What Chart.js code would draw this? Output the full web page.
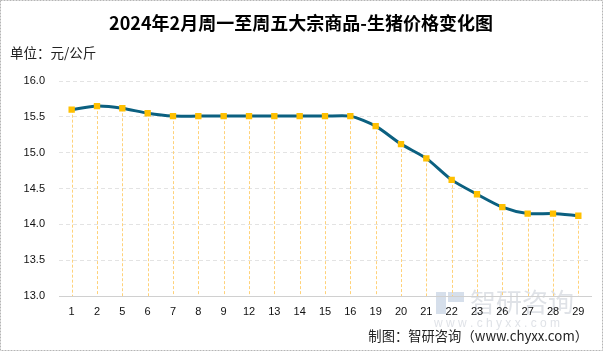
<!DOCTYPE html>
<html>
<head>
<meta charset="utf-8">
<script src="https://cdn.jsdelivr.net/npm/chart.js@4/dist/chart.umd.min.js"></script>
<style>
  html, body { margin: 0; padding: 0; background: #fff; }
  #wrap { width: 603px; height: 351px; position: relative; }
</style>
</head>
<body>
<div id="wrap"><canvas id="c" width="603" height="351"></canvas></div>
<script>
const titleText = '2024年2月周一至周五大宗商品-生猪价格变化图';
const unitText = '单位：元/公斤';
const sourceText = '制图：智研咨询（www.chyxx.com）';
const days = ['1','2','5','6','7','8','9','12','13','14','15','16','19','20','21','22','23','26','27','28','29'];
const prices = [15.60,15.65,15.62,15.55,15.51,15.51,15.51,15.51,15.51,15.51,15.51,15.51,15.37,15.12,14.92,14.62,14.42,14.24,14.15,14.15,14.12];
const yTicks = [13.0,13.5,14.0,14.5,15.0,15.5,16.0];

const CJK = '"Noto Sans CJK SC", "Noto Sans", sans-serif';
const NUM = '"Liberation Sans", "DejaVu Sans", sans-serif';

const decor = {
  id: 'decor',
  beforeDraw(chart) {
    const ctx = chart.ctx;
    ctx.save();
    ctx.fillStyle = '#fff';
    ctx.fillRect(0, 0, chart.width, chart.height);
    ctx.strokeStyle = '#b5b5b5';
    ctx.setLineDash([2, 1]);
    ctx.lineWidth = 1;
    ctx.strokeRect(0.5, 0.5, chart.width - 1, chart.height - 1);
    ctx.setLineDash([]);
    ctx.fillStyle = '#000';
    ctx.font = 'bold 18px ' + CJK;
    ctx.textAlign = 'center';
    ctx.textBaseline = 'middle';
    ctx.fillText(titleText, 301, 23);
    ctx.font = '13.5px ' + CJK;
    ctx.textAlign = 'left';
    ctx.fillStyle = '#222';
    ctx.fillText(unitText, 10, 53);
    // watermark
    ctx.fillStyle = 'rgba(150,160,175,0.3)';
    ctx.font = '26px ' + CJK;
    ctx.fillText('智研咨询', 470, 302);
    ctx.fillStyle = 'rgba(120,150,190,0.3)';
    ctx.fillRect(436, 292, 10, 22);
    ctx.fillRect(448, 292, 16, 10);
    ctx.fillStyle = 'rgba(150,160,175,0.3)';
    ctx.font = '12px ' + NUM;
    ctx.fillText('w w w . c h y x x . c o m', 434, 324);
    ctx.restore();
  },
  beforeDatasetsDraw(chart) {
    const ctx = chart.ctx;
    const meta = chart.getDatasetMeta(0);
    const bottom = chart.chartArea.bottom;
    ctx.save();
    ctx.strokeStyle = '#ffd27a';
    ctx.lineWidth = 1;
    ctx.setLineDash([3, 2]);
    meta.data.forEach(p => {
      ctx.beginPath();
      ctx.moveTo(Math.round(p.x) + 0.5, p.y);
      ctx.lineTo(Math.round(p.x) + 0.5, bottom);
      ctx.stroke();
    });
    ctx.restore();
  },
  afterDraw(chart) {
    const ctx = chart.ctx;
    ctx.save();
    ctx.fillStyle = '#222';
    ctx.font = '13.3px ' + CJK;
    ctx.textAlign = 'right';
    ctx.textBaseline = 'middle';
    ctx.fillText(sourceText, 588, 336);
    ctx.restore();
  }
};

new Chart(document.getElementById('c'), {
  type: 'line',
  data: {
    labels: days,
    datasets: [{
      data: prices,
      borderColor: '#0b6080',
      borderWidth: 3,
      tension: 0.25,
      pointStyle: 'rect',
      pointRadius: 4.5,
      pointHoverRadius: 4.5,
      pointBackgroundColor: '#ffc000',
      pointBorderColor: '#ffc000',
      pointBorderWidth: 0
    }]
  },
  options: {
    responsive: false,
    animation: false,
    devicePixelRatio: 1,
    layout: { padding: { left: 0, right: 12, top: 81, bottom: 25 } },
    plugins: { legend: { display: false }, title: { display: false }, tooltip: { enabled: false } },
    scales: {
      x: {
        offset: true,
        grid: { display: false, drawTicks: false },
        border: { display: true, color: '#d0d0d0', width: 1 },
        ticks: { color: '#111', font: { family: NUM, size: 11 }, padding: 9, maxRotation: 0, autoSkip: false },
        afterFit(s) { s.height = 30; }
      },
      y: {
        min: 13, max: 16,
        afterBuildTicks(s) { s.ticks = yTicks.map(v => ({ value: v })); },
        grid: { color: '#e3e3e3', lineWidth: 1, drawTicks: false },
        border: { display: false, dash: [4, 3] },
        ticks: { color: '#111', font: { family: NUM, size: 11 }, padding: 14, callback: v => Number(v).toFixed(1) },
        afterFit(s) { s.width = 59; }
      }
    }
  },
  plugins: [decor]
});
</script>
</body>
</html>
